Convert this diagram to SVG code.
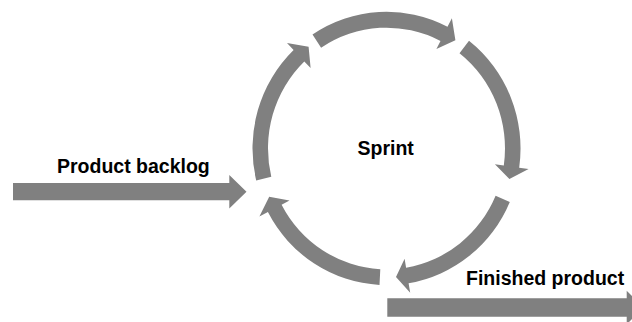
<svg xmlns="http://www.w3.org/2000/svg" width="632" height="322" viewBox="0 0 632 322">
<style>
.arr{fill:#808080;stroke:none}
.lbl{font-family:"Liberation Sans",Arial,sans-serif;font-weight:bold;font-size:19.5px;fill:#000}
</style>
<rect width="632" height="322" fill="#fff"/>
<g id="connectors">
<g id="cycle" transform="translate(386.5 148.5) scale(1 1.02)">
<path id="arc-a" class="arr" d="M -74.0 -111.7 A 134 134 0 0 1 61.0 -119.3 L 65.4 -127.7 L 68.9 -106.1 L 49.9 -97.5 L 54.0 -105.5 A 118.5 118.5 0 0 0 -65.4 -98.8 Z"/>
<path id="arc-b" class="arr" d="M 82.5 -105.6 A 134 134 0 0 1 132.7 18.9 L 142.1 20.2 L 122.9 30.0 L 108.4 15.4 L 117.3 16.7 A 118.5 118.5 0 0 0 73.0 -93.4 Z"/>
<path id="arc-c" class="arr" d="M 123.3 52.4 A 134 134 0 0 1 22.1 132.2 L 23.7 141.5 L 9.5 126.1 L 18.1 108.0 L 19.6 116.9 A 118.5 118.5 0 0 0 109.1 46.3 Z"/>
<path id="arc-d" class="arr" d="M -7.0 133.8 A 134 134 0 0 1 -118.6 62.3 L -127.1 66.7 L -117.3 47.4 L -97.0 50.9 L -104.9 55.1 A 118.5 118.5 0 0 0 -6.2 118.3 Z"/>
<path id="arc-e" class="arr" d="M -130.3 31.3 A 134 134 0 0 1 -92.9 -96.6 L -99.5 -103.4 L -77.9 -99.7 L -75.9 -78.9 L -82.2 -85.4 A 118.5 118.5 0 0 0 -115.2 27.7 Z"/>
</g>
<path id="in-arrow" class="arr" d="M 13 183 L 229.3 183 L 229.3 175 L 246.5 191.7 L 229.3 208.5 L 229.3 200.3 L 13 200.3 Z"/>
<path id="out-arrow" class="arr" d="M 387.3 298.3 L 626.7 298.3 L 626.7 290.7 L 643.5 307.5 L 626.7 324.3 L 626.7 316.7 L 387.3 316.7 Z"/>
</g>
<g id="node-sprint"><text class="lbl" x="385.7" y="155" text-anchor="middle">Sprint</text></g>
<g id="node-backlog"><text class="lbl" x="57" y="173.3">Product backlog</text></g>
<g id="node-finished"><text class="lbl" x="466" y="285">Finished product</text></g>
</svg>
